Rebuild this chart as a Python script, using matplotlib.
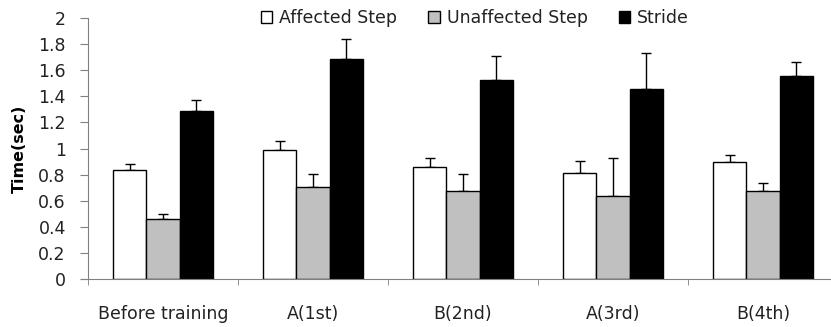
import matplotlib.pyplot as plt
import numpy as np
from matplotlib.patches import Patch

# Gait timing data
sessions = ['Before training', 'A(1st)', 'B(2nd)', 'A(3rd)', 'B(4th)']
series = ['Affected Step', 'Unaffected Step', 'Stride']
affected = [0.835, 0.985, 0.858, 0.812, 0.893]
unaffected = [0.46, 0.707, 0.672, 0.636, 0.672]
stride = [1.29, 1.688, 1.525, 1.453, 1.558]
affected_err = [0.045, 0.07, 0.07, 0.09, 0.06]
unaffected_err = [0.04, 0.095, 0.13, 0.29, 0.06]
stride_err = [0.085, 0.15, 0.185, 0.28, 0.105]

colors = ['white', '#c0c0c0', 'black']
values = [affected, unaffected, stride]
errors = [affected_err, unaffected_err, stride_err]

fig = plt.figure(figsize=(8.31, 3.27), dpi=100)
ax = fig.add_axes([0.1059, 0.1468, 0.9025, 0.798])

x = np.arange(len(sessions))
w = 0.223
for i in range(3):
    err = np.array(errors[i])
    ax.bar(x + (i - 1) * w, values[i], w, color=colors[i], edgecolor='black',
           linewidth=1, zorder=2)
    ax.errorbar(x + (i - 1) * w, values[i], yerr=[np.zeros_like(err), err],
                fmt='none', ecolor='black', elinewidth=1, capsize=3.5,
                capthick=1, zorder=1)

ax.set_xlim(-0.5, 4.5)
ax.set_ylim(0, 2)
ax.set_yticks(np.arange(0, 2.01, 0.2))
ax.set_yticklabels(['0', '0.2', '0.4', '0.6', '0.8', '1', '1.2', '1.4', '1.6', '1.8', '2'])
ax.set_xticks(x)
ax.set_xticklabels(sessions)
ax.set_xticks(np.arange(-0.5, 4.6, 1), minor=True)
ax.tick_params(axis='x', which='major', length=0, pad=19, labelsize=12.5, labelcolor='#222222')
ax.tick_params(axis='x', which='minor', length=4.5, direction='out', color='#808080')
ax.tick_params(axis='y', length=6, color='#808080', labelsize=12.5, pad=10, labelcolor='#222222')

for s in ['top', 'right']:
    ax.spines[s].set_visible(False)
for s in ['left', 'bottom']:
    ax.spines[s].set_color('#808080')
ax.spines['bottom'].set_bounds(-0.55, 4.5)

ax.set_ylabel('Time(sec)', fontsize=11.5, fontweight='bold', labelpad=8)

handles = [Patch(facecolor=c, edgecolor='black', linewidth=1) for c in colors]
ax.legend(handles, series, loc='center', bbox_to_anchor=(0.516, 1.0),
          ncol=3, frameon=False, fontsize=12.5, handlelength=0.65, handleheight=0.65,
          handletextpad=0.4, columnspacing=1.8, labelcolor='#222222')

plt.savefig('out.png')
